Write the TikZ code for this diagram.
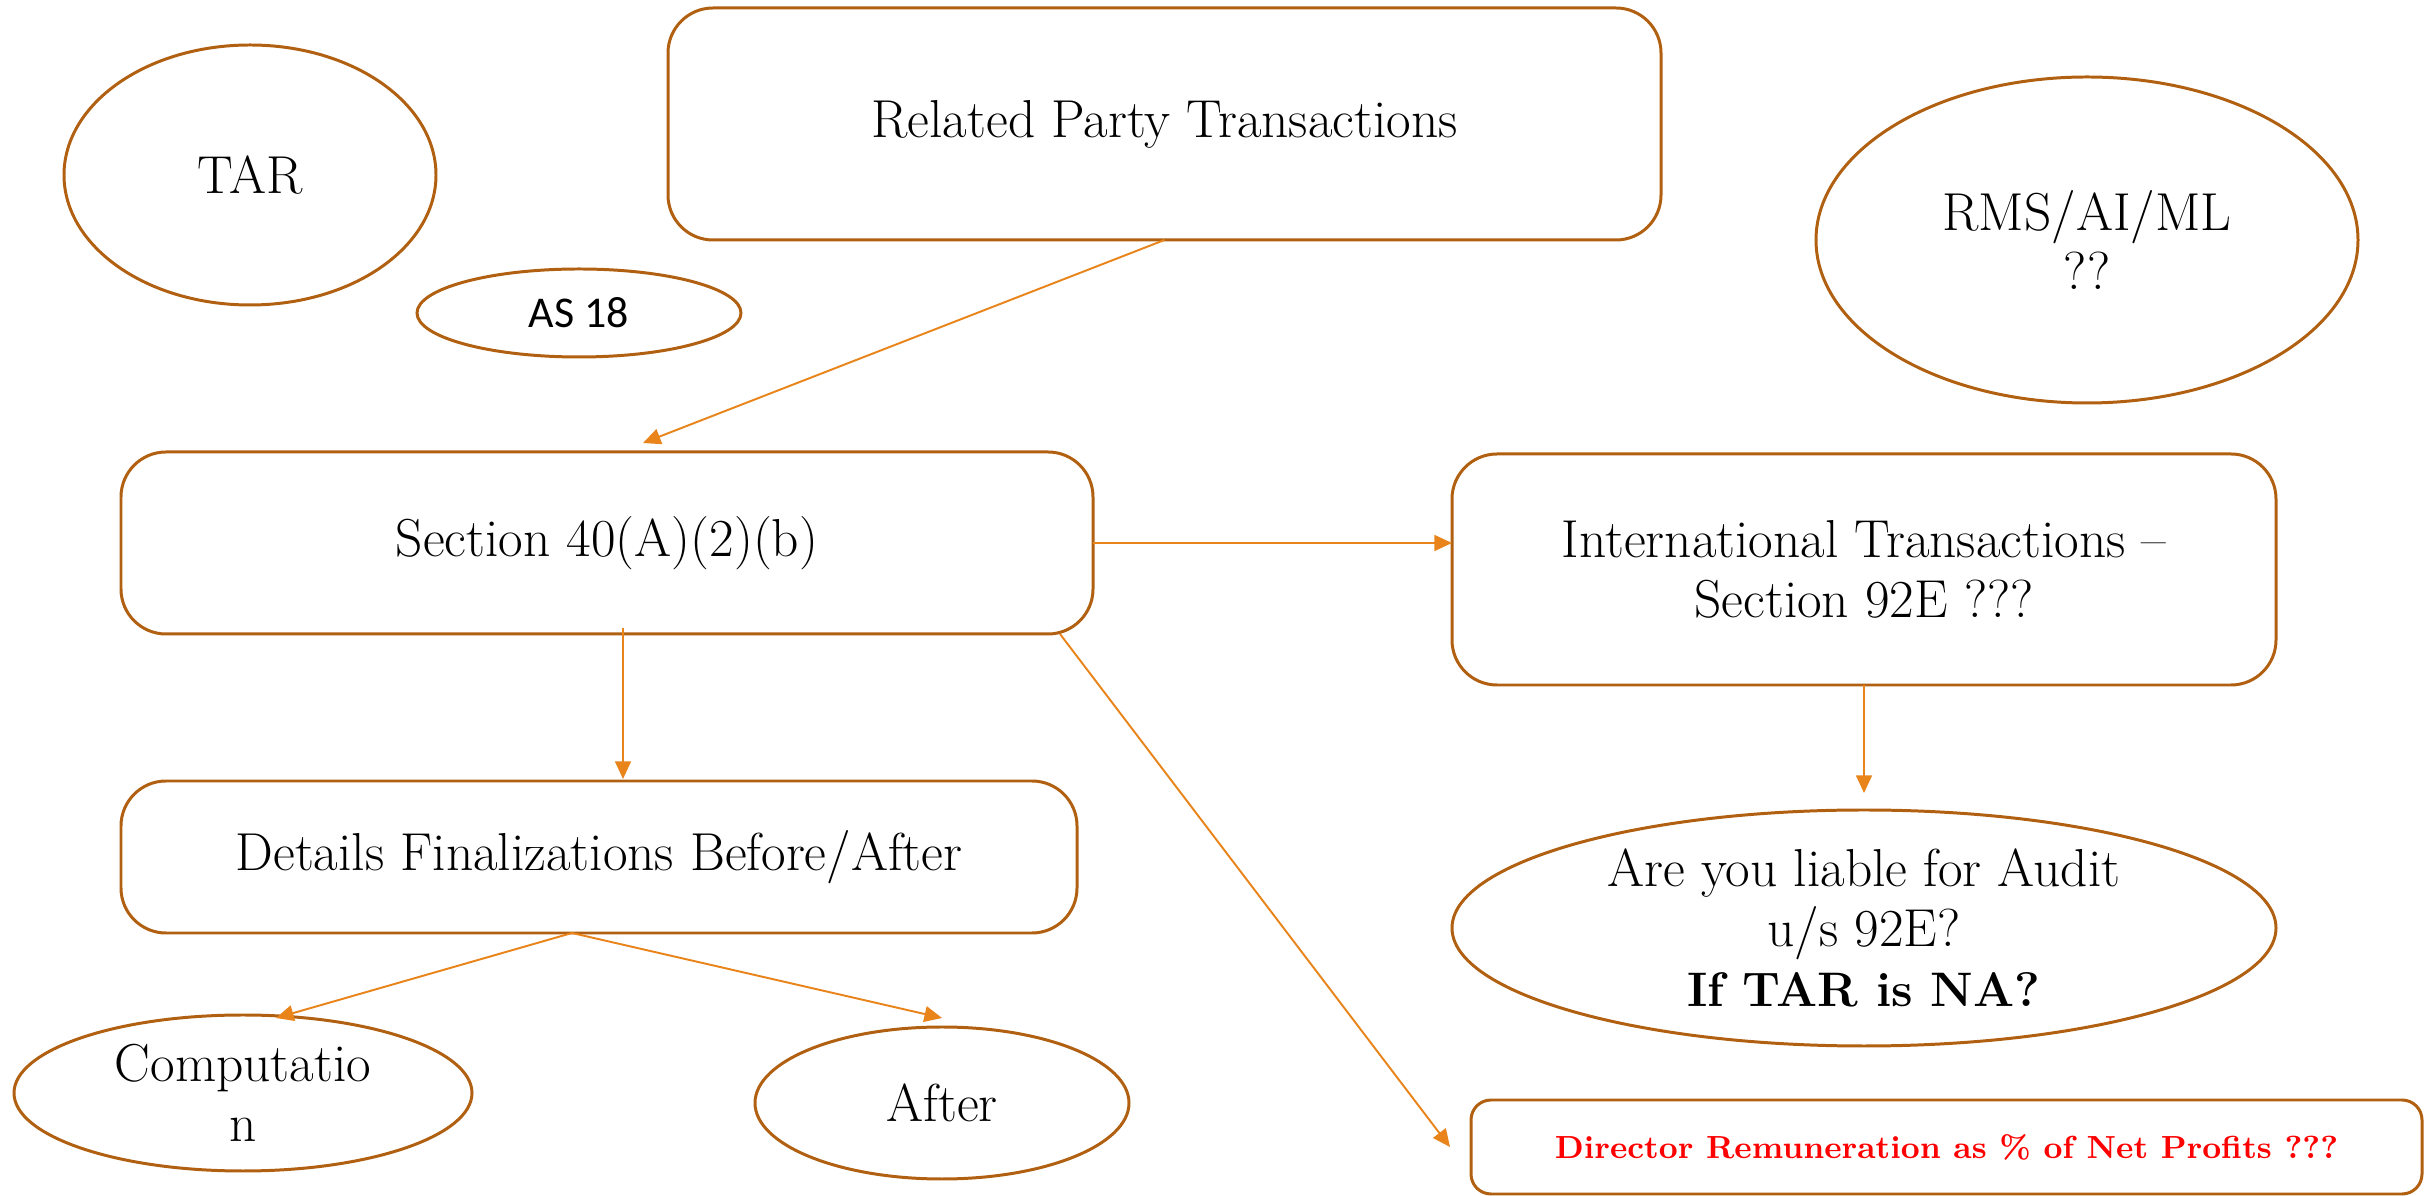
\documentclass[tikz,border=0pt]{standalone}
\usepackage{fontspec}
\newfontfamily\carlito{Carlito}
\usepackage{tikz}
\usetikzlibrary{shapes.geometric, calc, positioning, arrows.meta}
\usepackage{xcolor}
\definecolor{boxbrown}{RGB}{176, 96, 16}
\definecolor{arroworange}{RGB}{232, 132, 26}
\definecolor{remred}{RGB}{255, 0, 0}

\begin{document}
\begin{tikzpicture}[>={Triangle[length=5pt, width=4.5pt]}, line width=0.85pt,
    rbox/.style={draw=boxbrown, rectangle, rounded corners=0.45cm, inner sep=0pt, outer sep=0pt, align=center, font=\fontsize{15.2}{17}\selectfont},
    oval/.style={draw=boxbrown, ellipse, inner sep=0pt, outer sep=0pt, align=center, font=\fontsize{15.2}{17}\selectfont},
    arr/.style={->, arroworange, line width=0.55pt}]
    \useasboundingbox (0,0) rectangle (24.30,-11.96);

    \node[rbox, minimum width=9.93cm, minimum height=2.32cm] (rpt) at (11.645,-1.24) {Related Party Transactions};
    \node[oval, minimum width=3.72cm, minimum height=2.60cm] (tar) at (2.50,-1.75) {TAR};
    \node[oval, minimum width=3.24cm, minimum height=0.88cm, font=\carlito\fontsize{12.5}{15}\selectfont] (as18) at (5.79,-3.13) {AS 18};
    \node[oval, minimum width=5.42cm, minimum height=3.26cm] (rms) at (20.87,-2.40) {RMS/AI/ML\\??};

    \node[rbox, minimum width=9.72cm, minimum height=1.82cm] (sec40) at (6.07,-5.43) {Section 40(A)(2)(b)};
    \node[rbox, minimum width=8.24cm, minimum height=2.31cm] (intl) at (18.64,-5.695) {International Transactions --\\Section 92E ???};
    \node[rbox, minimum width=9.56cm, minimum height=1.52cm] (details) at (5.99,-8.57) {Details Finalizations Before/After};
    \node[oval, minimum width=8.24cm, minimum height=2.36cm] (audit) at (18.64,-9.28) {Are you liable for Audit\\u/s 92E?\\{\fontsize{13.8}{17}\selectfont\bfseries If TAR is NA?}};

    \node[oval, minimum width=4.58cm, minimum height=1.56cm] (comp) at (2.43,-10.93) {Computatio\\n};
    \node[oval, minimum width=3.74cm, minimum height=1.52cm] (after) at (9.42,-11.03) {After};
    \node[rbox, rounded corners=0.2cm, minimum width=9.51cm, minimum height=0.94cm, font=\fontsize{9.1}{11}\selectfont\bfseries, text=remred] (director) at (19.465,-11.47) {Director Remuneration as \% of Net Profits ???};

    % connectors
    \coordinate (sec40in) at (6.43,-4.43);
    \draw[arr] (rpt.south) -- (sec40in);
    \draw[arr] (sec40.east) -- (sec40.east -| intl.west);
    \draw[arr] ([xshift=0.16cm, yshift=0.06cm]sec40.south) -- ([xshift=0.24cm, yshift=0.02cm]details.north);
    \draw[arr] ([xshift=-0.33cm]sec40.south east) -- ([xshift=-0.21cm]director.west);
    \draw[arr] ([xshift=-0.27cm]details.south) -- ([xshift=0.33cm, yshift=-0.03cm]comp.north);
    \draw[arr] ([xshift=-0.27cm]details.south) -- ([yshift=0.09cm]after.north);
    \draw[arr] (intl.south) -- ([yshift=0.17cm]audit.north);
\end{tikzpicture}
\end{document}
